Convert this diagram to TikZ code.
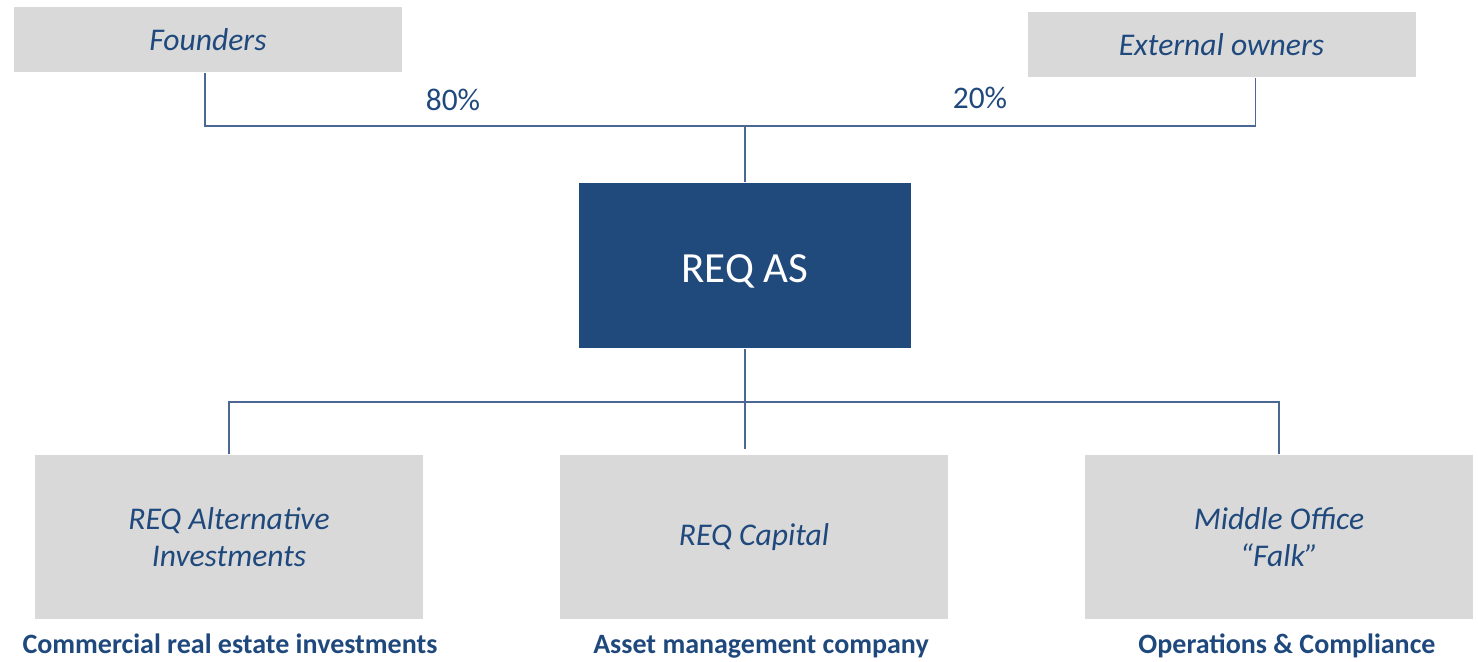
\documentclass[tikz,border=0pt]{standalone}
\usepackage{fontspec}
\setmainfont{Carlito}
\usepackage{tikz}
\usetikzlibrary{positioning}

\definecolor{reqblue}{HTML}{1F497D}
\definecolor{reqbox}{HTML}{204A7B}
\definecolor{reqgray}{HTML}{D9D9D9}
\definecolor{reqline}{HTML}{4A6892}

\begin{document}
\begin{tikzpicture}[x=0.5pt,y=-0.5pt,line width=0.75pt]

	\tikzset{node own/.style={rectangle, draw=none, fill=reqgray,
			minimum width=194pt, minimum height=32.5pt, inner sep=0pt,
			text=reqblue, font=\fontsize{15.8}{18}\selectfont\itshape}}
	\tikzset{node main/.style={rectangle, draw=none, fill=reqbox,
			minimum width=166pt, minimum height=82.5pt, inner sep=0pt,
			text height=17pt, text depth=0pt,
			text=white, font=\fontsize{21.5}{25}\selectfont}}
	\tikzset{node sub/.style={rectangle, draw=none, fill=reqgray,
			minimum width=194pt, minimum height=82pt, inner sep=0pt, align=center,
			text=reqblue, font=\fontsize{15.8}{18.5}\selectfont\itshape}}
	\tikzset{node pct/.style={text=reqblue, inner sep=0pt,
			font=\fontsize{15.7}{18}\selectfont}}
	\tikzset{node role/.style={text=reqblue, inner sep=0pt,
			text height=10pt, text depth=0pt,
			font=\fontsize{14}{16}\selectfont\bfseries}}
	\tikzset{link/.style={draw=reqline}}

	\useasboundingbox (0,0) rectangle (1478,661);

	% owners
	\node[node own] (F) at (208,39.5) {Founders};
	\node[node own] (E) at (1221.5,44.5) {External owners};
	\node[node pct] (P1) at (453,100) {80\%};
	\node[node pct] (P2) at (980,98) {20\%};

	% holding
	\node[node main] (R) at (745,265.5) {REQ AS};

	% subsidiaries
	\node[node sub] (S1) at (229,537) {REQ Alternative\\Investments};
	\node[node sub] (S2) at (754,537) {REQ Capital};
	\node[node sub] (S3) at (1279,537) {Middle Office\\``Falk''};

	\node[node role] (L1) at (230,643) {Commercial real estate investments};
	\node[node role] (L2) at (761,643) {Asset management company};
	\node[node role] (L3) at (1287,643) {Operations \& Compliance};

	\coordinate (J1) at (745,126);
	\coordinate (J2) at (745,402);

	\draw[link] ([xshift=-1.5pt]F.south) |- (J1) -| ([xshift=17pt]E.south);
	\draw[link] (J1) -- (R.north);

	\draw[link] (R.south) -- (J2);
	\draw[link] (S1.north) |- (J2) -| (S3.north);
	\draw[link] (J2) -- ([yshift=2.5pt]J2 |- S2.north);

\end{tikzpicture}
\end{document}
